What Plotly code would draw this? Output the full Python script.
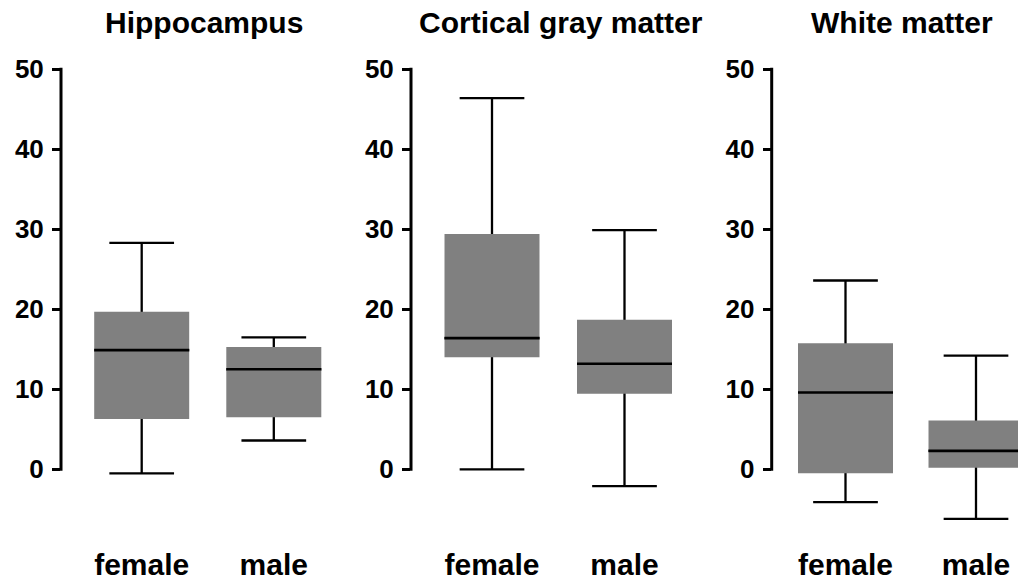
import plotly.graph_objects as go

# ---- data ----
regions = ["Hippocampus", "Cortical gray matter", "White matter"]
groups = ["female", "male"]

female_lower = [-0.5, 0.0, -4.1]
female_q1 = [6.3, 14.0, -0.5]
female_median = [14.9, 16.4, 9.6]
female_q3 = [19.7, 29.4, 15.75]
female_upper = [28.3, 46.4, 23.6]

male_lower = [3.6, -2.1, -6.2]
male_q1 = [6.5, 9.45, 0.2]
male_median = [12.5, 13.2, 2.3]
male_q3 = [15.3, 18.7, 6.1]
male_upper = [16.5, 29.9, 14.2]

y_ticks = [0, 10, 20, 30, 40, 50]

# ---- layout geometry (pixels) ----
W, H = 1018, 586
axis_px = [61, 411, 771.7]
first_center_px = [141.7, 492, 845.5]
spacing_px = [132.1, 132.5, 130.5]
right_px = [340, 700, 1018]
title_px = [204, 561, 902]
box_px = 95.0
cap_px = 64.7

y_min, y_max = -9, 52
# y(v) = 469.3 - 8 v   (pixels)
top_px = 469.3 - 8 * y_max
bot_px = 469.3 - 8 * y_min
y_domain = [1 - bot_px / H, 1 - top_px / H]

GRAY = "#808080"
BLACK = "#000000"
FONT = "Liberation Sans"

stats = {
    "female": (female_lower, female_q1, female_median, female_q3, female_upper),
    "male": (male_lower, male_q1, male_median, male_q3, male_upper),
}

fig = go.Figure()
layout = {}
shapes = []
annotations = []

for i, region in enumerate(regions):
    sfx = "" if i == 0 else str(i + 1)
    xa, ya = "x" + sfx, "y" + sfx
    bw = box_px / spacing_px[i]
    for g in groups:
        lo, q1, md, q3, hi = (arr[i] for arr in stats[g])
        # whiskers (drawn from the median outward, hidden inside the box)
        fig.add_trace(go.Box(
            x=[g], q1=[md], median=[md], q3=[md], lowerfence=[lo], upperfence=[hi],
            width=bw, whiskerwidth=cap_px / box_px, fillcolor=BLACK,
            line=dict(color=BLACK, width=2.3), xaxis=xa, yaxis=ya,
            hoverinfo="skip", showlegend=False, boxpoints=False))
        # gray box
        fig.add_trace(go.Box(
            x=[g], q1=[q1], median=[md], q3=[q3], lowerfence=[q1], upperfence=[q3],
            width=bw, whiskerwidth=0, fillcolor=GRAY,
            line=dict(color=GRAY, width=0), xaxis=xa, yaxis=ya,
            hoverinfo="skip", showlegend=False, boxpoints=False))
        # median line
        fig.add_trace(go.Box(
            x=[g], q1=[md], median=[md], q3=[md], lowerfence=[md], upperfence=[md],
            width=bw, whiskerwidth=0, fillcolor=BLACK,
            line=dict(color=BLACK, width=2.6), xaxis=xa, yaxis=ya,
            hoverinfo="skip", showlegend=False, boxpoints=False))

    x0 = -(first_center_px[i] - axis_px[i]) / spacing_px[i]
    x1 = (right_px[i] - first_center_px[i]) / spacing_px[i]
    layout["xaxis" + sfx] = dict(
        domain=[axis_px[i] / W, right_px[i] / W], anchor=ya,
        type="category", categoryorder="array", categoryarray=groups,
        range=[x0, x1], showline=False, showgrid=False, zeroline=False,
        ticks="", ticklabelstandoff=3,
        tickfont=dict(family=FONT, size=30, color=BLACK, weight="bold"),
    )
    layout["yaxis" + sfx] = dict(
        domain=y_domain, anchor=xa, range=[y_min, y_max],
        tickmode="array", tickvals=y_ticks, ticktext=[str(t) for t in y_ticks],
        ticks="outside", ticklen=8, tickwidth=3, tickcolor=BLACK,
        showline=False, showgrid=False, zeroline=False, ticklabelstandoff=3,
        tickfont=dict(family=FONT, size=26, color=BLACK, weight="bold"),
    )
    shapes.append(dict(
        type="line", xref=xa + " domain", yref=ya,
        x0=0, x1=0, y0=y_ticks[0] - 0.19, y1=y_ticks[-1] + 0.19,
        line=dict(color=BLACK, width=3), layer="above"))
    annotations.append(dict(
        text=region, xref="paper", yref="paper",
        x=title_px[i] / W, y=1 - 22 / H, xanchor="center", yanchor="middle",
        showarrow=False,
        font=dict(family=FONT, size=30, color=BLACK, weight="bold")))

fig.update_layout(
    width=W, height=H, margin=dict(l=0, r=0, t=0, b=0),
    paper_bgcolor="white", plot_bgcolor="white",
    boxmode="overlay", showlegend=False,
    shapes=shapes, annotations=annotations, **layout,
)

fig.write_html("out.html")
